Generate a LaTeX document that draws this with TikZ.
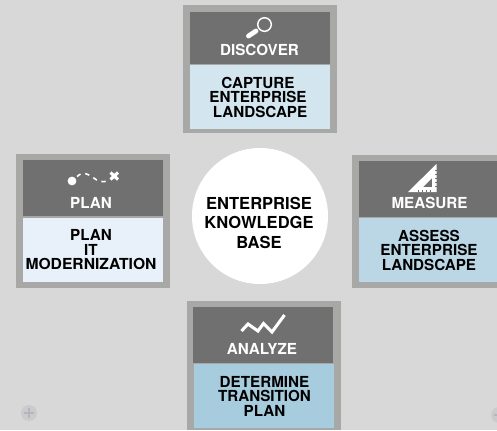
\documentclass[tikz,border=0pt]{standalone}
\usepackage{fontspec}
\setmainfont{TeX Gyre Heros}
\definecolor{bgGray}{HTML}{D8D8D8}
\definecolor{frameGray}{HTML}{A8A8A6}
\definecolor{headGray}{HTML}{707070}
\definecolor{discoverBlue}{HTML}{D3E5EE}
\definecolor{planBlue}{HTML}{E8F1F9}
\definecolor{measureBlue}{HTML}{BBD6E5}
\definecolor{analyzeBlue}{HTML}{A6CCDE}
\definecolor{plusDisc}{HTML}{CBCBCD}
\definecolor{plusBar}{HTML}{B5B5BA}
\tikzset{
  px/.style={x=0.75pt,y=-0.75pt},
  outerbox/.style={fill=frameGray,draw=none},
  headbox/.style={fill=headGray,draw=none},
  headtxt/.style={text=white,font=\fontsize{11.4pt}{11.4pt}\selectfont\bfseries,inner sep=0pt,anchor=center},
  bodytxt/.style={text=black,font=\fontsize{11.4pt}{10.9pt}\selectfont\bfseries,inner sep=0pt,align=center,anchor=center},
}
\begin{document}
\begin{tikzpicture}[px]
\useasboundingbox (0,0) rectangle (497,430);
\fill[bgGray] (0,0) rectangle (497,430);
% registration marks
\fill[plusDisc] (29,413) circle (8);
\draw[plusBar,line width=0.8pt] (24,413) -- (34,413) (29,408) -- (29,418);
\fill[plusDisc] (499,415) circle (8);
\draw[plusBar,line width=0.8pt] (494,415) -- (497,415);
% top card
\fill[outerbox] (183,5) rectangle (337,133);
\fill[headbox] (190,12) rectangle (330,64);
\fill[discoverBlue] (190,65) rectangle (330,129);
\node[headtxt] (discover) at (259.5,50) {DISCOVER};
\node[bodytxt] (capture) at (258,97) {CAPTURE\\ENTERPRISE\\\ LANDSCAPE};
\draw[white,line width=1.1pt] (264.5,24.5) circle (6.8);
\draw[white,line width=3.6pt,line cap=round] (256,31) -- (248.5,36);
% left card
\fill[outerbox] (16,154) rectangle (170,288);
\fill[headbox] (23,160) rectangle (163,216);
\fill[planBlue] (23,218) rectangle (163,282);
\node[headtxt] (plan) at (91,203) {PLAN};
\node[bodytxt] (planit) at (91,250) {PLAN\\IT\\\scalebox{1.03}[1]{MODERNIZATION}};
\fill[white] (72,181) circle (4.4);
\draw[white,line width=1.2pt,dash pattern=on 3.2pt off 3.6pt] (77,176.5) .. controls (83,171) and (88,174) .. (93,177.5) .. controls (98,181.5) and (103,183) .. (108,180.5);
\draw[white,line width=2.3pt] (110.5,172.5) -- (118,179.5) (118,172.5) -- (110.5,179.5);
% right card
\fill[outerbox] (352,155) rectangle (497,288);
\fill[headbox] (359,161) rectangle (497,217);
\fill[measureBlue] (359,218) rectangle (497,282);
\node[headtxt] (measure) at (429.5,203) {MEASURE};
\node[bodytxt] (assess) at (429,250) {ASSESS\ \\ENTERPRISE\\LANDSCAPE};
\fill[white,even odd rule] (436.5,164) -- (436.5,192) -- (408,192) -- cycle (432,178) -- (432,187) -- (423,187) -- cycle;
\draw[headGray,line width=0.4pt] (436.5,170) -- (434.5,170) (436.5,174) -- (434.5,174) (436.5,178) -- (434.5,178) (436.5,182) -- (434.5,182) (436.5,186) -- (434.5,186)
  (418,192) -- (418,190) (422,192) -- (422,190) (426,192) -- (426,190) (430,192) -- (430,190);
% bottom card
\fill[outerbox] (187,301) rectangle (341,430);
\fill[headbox] (193,307) rectangle (333,363);
\fill[analyzeBlue] (194,364) rectangle (334,428);
\node[headtxt] (analyze) at (262,349) {ANALYZE};
\node[bodytxt] (determine) at (264.5,396) {DETERMINE\\TRANSITION\\PLAN};
\draw[white,line width=2.3pt] (241.5,331) -- (248,324) -- (258,331) -- (263.5,323.5) -- (272,332) -- (284.5,315);
% centre
\node[circle,fill=white,draw=none,minimum size=102pt,inner sep=0pt] (hub) at (260,216) {};
\node[bodytxt,font=\fontsize{12.4pt}{14.8pt}\selectfont\bfseries] (hubtxt) at (259,222.7) {ENTERPRISE\\KNOWLEDGE\\BASE};
\end{tikzpicture}
\end{document}
